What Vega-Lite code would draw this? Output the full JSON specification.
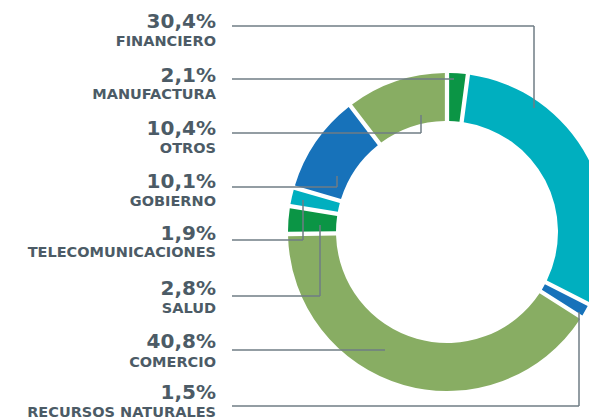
{
  "$schema": "https://vega.github.io/schema/vega-lite/v6.json",
  "width": 284,
  "height": 376,
  "padding": {"left": 305, "top": 44, "right": 0, "bottom": 0},
  "autosize": "none",
  "background": "white",
  "config": {"view": {"stroke": null}},
  "datasets": {
    "sectors": [
      {"sector": "FINANCIERO", "pct": "30,4%", "value": 30.4, "order": 2, "startX": 232, "lineY": 26, "kneeX": 534, "endY": 108, "pctY": 28, "nameY": 46},
      {"sector": "MANUFACTURA", "pct": "2,1%", "value": 2.1, "order": 1, "startX": 232, "lineY": 79, "kneeX": 454, "endY": 79, "pctY": 82, "nameY": 99},
      {"sector": "OTROS", "pct": "10,4%", "value": 10.4, "order": 8, "startX": 232, "lineY": 133, "kneeX": 421, "endY": 115, "pctY": 135, "nameY": 153},
      {"sector": "GOBIERNO", "pct": "10,1%", "value": 10.1, "order": 7, "startX": 232, "lineY": 187, "kneeX": 337, "endY": 176, "pctY": 188, "nameY": 206},
      {"sector": "TELECOMUNICACIONES", "pct": "1,9%", "value": 1.9, "order": 6, "startX": 232, "lineY": 240, "kneeX": 303, "endY": 200, "pctY": 240, "nameY": 257},
      {"sector": "SALUD", "pct": "2,8%", "value": 2.8, "order": 5, "startX": 232, "lineY": 296, "kneeX": 320, "endY": 225, "pctY": 295, "nameY": 313},
      {"sector": "COMERCIO", "pct": "40,8%", "value": 40.8, "order": 4, "startX": 232, "lineY": 350, "kneeX": 385, "endY": 350, "pctY": 348, "nameY": 367},
      {"sector": "RECURSOS NATURALES", "pct": "1,5%", "value": 1.5, "order": 3, "startX": 232, "lineY": 406, "kneeX": 579, "endY": 312, "pctY": 399, "nameY": 417}
    ]
  },
  "layer": [
    {
      "data": {"name": "sectors"},
      "mark": {"type": "arc", "innerRadius": 111, "outerRadius": 159, "padAngle": 0.022},
      "encoding": {
        "theta": {"field": "value", "type": "quantitative", "stack": true},
        "order": {"field": "order", "type": "quantitative"},
        "color": {
          "field": "sector", "type": "nominal", "legend": null,
          "scale": {
            "domain": ["MANUFACTURA", "FINANCIERO", "RECURSOS NATURALES", "COMERCIO", "SALUD", "TELECOMUNICACIONES", "GOBIERNO", "OTROS"],
            "range": ["#0b9545", "#00afbf", "#1772ba", "#88ad63", "#0b9545", "#00afbf", "#1772ba", "#88ad63"]
          }
        }
      }
    },
    {
      "data": {"name": "sectors"},
      "mark": {"type": "rule", "color": "#6f7c84", "strokeWidth": 1.5},
      "encoding": {
        "x": {"field": "startX", "type": "quantitative", "scale": {"domain": [305, 589], "nice": false, "zero": false}, "axis": null},
        "x2": {"field": "kneeX"},
        "y": {"field": "lineY", "type": "quantitative", "scale": {"domain": [44, 420], "nice": false, "zero": false, "reverse": true}, "axis": null}
      }
    },
    {
      "data": {"name": "sectors"},
      "mark": {"type": "rule", "color": "#6f7c84", "strokeWidth": 1.5},
      "encoding": {
        "x": {"field": "kneeX", "type": "quantitative", "scale": {"domain": [305, 589], "nice": false, "zero": false}, "axis": null},
        "y": {"field": "lineY", "type": "quantitative", "scale": {"domain": [44, 420], "nice": false, "zero": false, "reverse": true}, "axis": null},
        "y2": {"field": "endY"}
      }
    },
    {
      "data": {"name": "sectors"},
      "mark": {"type": "text", "align": "right", "baseline": "alphabetic", "font": "DejaVu Sans", "fontWeight": "bold", "fontSize": 20, "color": "#4c5b66"},
      "encoding": {
        "text": {"field": "pct"},
        "x": {"datum": 216, "type": "quantitative", "scale": {"domain": [305, 589], "nice": false, "zero": false}, "axis": null},
        "y": {"field": "pctY", "type": "quantitative", "scale": {"domain": [44, 420], "nice": false, "zero": false, "reverse": true}, "axis": null}
      }
    },
    {
      "data": {"name": "sectors"},
      "mark": {"type": "text", "align": "right", "baseline": "alphabetic", "font": "DejaVu Sans", "fontWeight": "bold", "fontSize": 14.5, "color": "#4c5b66"},
      "encoding": {
        "text": {"field": "sector"},
        "x": {"datum": 216, "type": "quantitative", "scale": {"domain": [305, 589], "nice": false, "zero": false}, "axis": null},
        "y": {"field": "nameY", "type": "quantitative", "scale": {"domain": [44, 420], "nice": false, "zero": false, "reverse": true}, "axis": null}
      }
    }
  ]
}
